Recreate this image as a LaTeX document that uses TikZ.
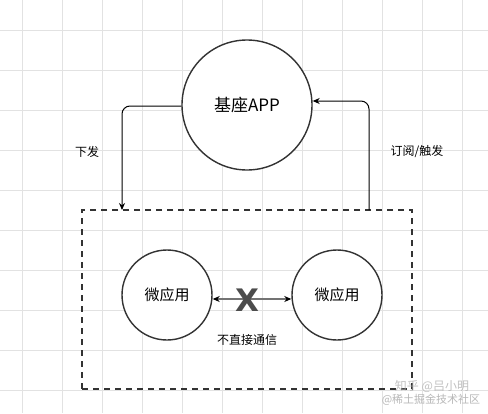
\documentclass[tikz,border=0pt]{standalone}
\usepackage{fontspec}
\setmainfont{Noto Sans CJK SC}
\newfontfamily\xfont{DejaVu Sans}
\usetikzlibrary{arrows.meta}
\definecolor{gridc}{HTML}{E2E2E2}
\definecolor{linec}{HTML}{333333}
\tikzset{
  circ/.style={circle, draw=linec, line width=1.4pt, inner sep=0pt, fill=white},
  conn/.style={draw=black, line width=1pt, rounded corners=8pt, -{Stealth[length=7pt,width=6pt]}},
  lbl/.style={font=\fontsize{12}{14}\selectfont, text=black},
  dashbox/.style={draw=linec, line width=1.6pt, dash pattern=on 6pt off 5pt},
}
\begin{document}
\begin{tikzpicture}[x=1pt,y=-1pt]
\useasboundingbox (0,0) rectangle (488,413);
\fill[white] (0,0) rectangle (488,413);
% grid
\foreach \gx in {22,62,...,482} \draw[gridc, line width=0.8pt] (\gx,0) -- (\gx,413);
\foreach \gy in {30,70,...,410} \draw[gridc, line width=0.8pt] (0,\gy) -- (488,\gy);
% dashed box
\node[dashbox, minimum width=330pt, minimum height=179pt, inner sep=0pt] (box) at (247,299.5) {};
% main circle
\node[circ, minimum size=130pt, font=\fontsize{17}{20}\selectfont] (app) at (247,105) {基座APP};
% micro apps
\node[circ, minimum size=90pt, font=\fontsize{15}{18}\selectfont] (m1) at (167,295) {微应用};
\node[circ, minimum size=90pt, font=\fontsize{15}{18}\selectfont] (m2) at (337,295) {微应用};
% connectors
\coordinate (dl) at (122,210);
\coordinate (ur) at (369,210);
\draw[conn] (app.west |- 0,106) -- (122,106) -- (dl);
\draw[conn] (ur) -- (369,101) -- (app.east |- 0,101);
\node[lbl] (l1) at (87,152) {下发};
\node[lbl] (l2) at (417,152) {订阅/触发};
% no direct communication
\coordinate (a1) at (212,299);
\coordinate (a2) at (292,299);
\draw[draw=gray!90!black, line width=1.2pt, {Stealth[length=7pt,width=6pt,color=black]}-{Stealth[length=7pt,width=6pt,color=black]}] (m1.east |- a1) -- (m2.west |- a2);
\node[text=black!70, font=\xfont\bfseries\fontsize{31}{31}\selectfont, inner sep=0pt] (x) at (247,300) {X};
\node[lbl] (l3) at (247,340) {不直接通信};
% watermark
\node[text=black!30, font=\fontsize{12}{14}\selectfont, opacity=0.8] (w1) at (432,386) {知乎 @吕小明};
\node[text=black!35, font=\fontsize{11}{13}\selectfont, opacity=0.8] (w2) at (431,400) {@稀土掘金技术社区};
\end{tikzpicture}
\end{document}
